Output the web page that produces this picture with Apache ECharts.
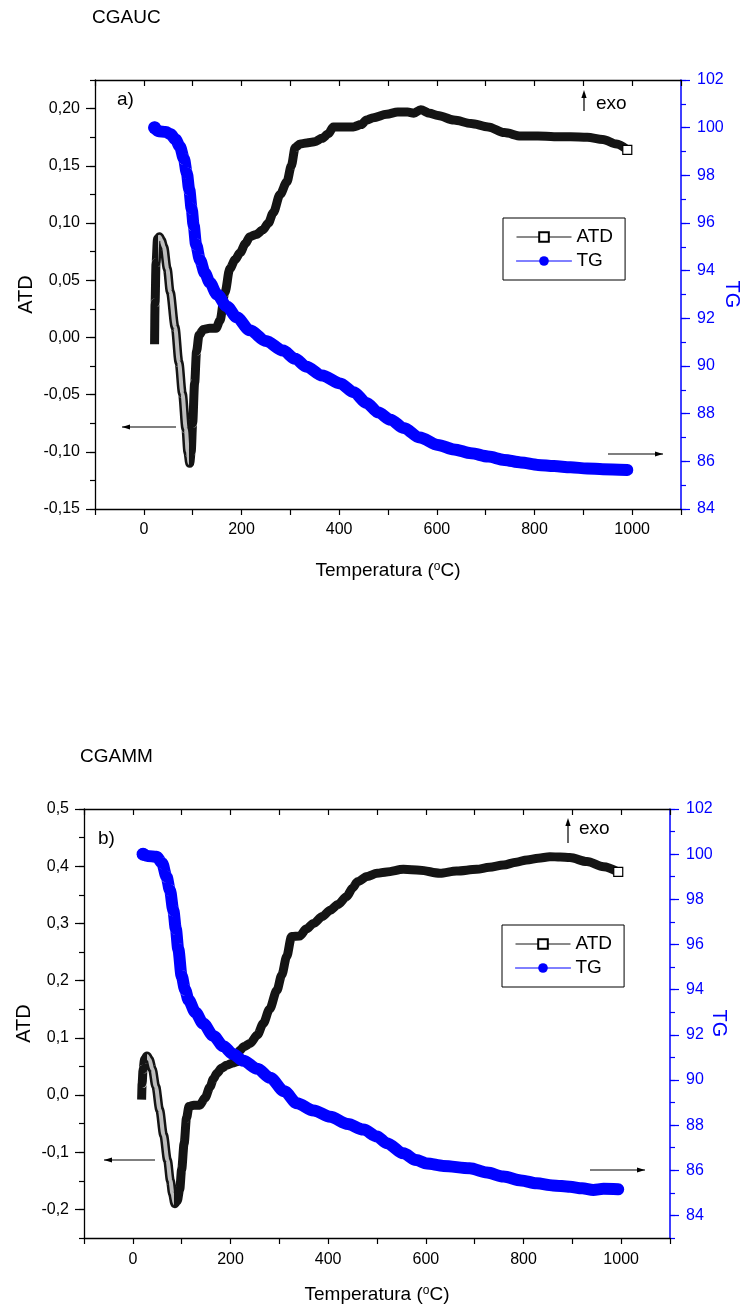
<!DOCTYPE html>
<html><head><meta charset="utf-8">
<script src="https://cdn.jsdelivr.net/npm/echarts@6/dist/echarts.min.js"></script>
<style>html,body{margin:0;padding:0;background:#fff}#c{width:744px;height:1311px}</style>
</head><body><div id="c"></div>
<script>
// ---- data ----
const titleA = 'CGAUC';
const titleB = 'CGAMM';
const xTicks = [0, 200, 400, 600, 800, 1000];
const atdTicksA = [-0.15, -0.10, -0.05, 0, 0.05, 0.10, 0.15, 0.20];
const atdTicksB = [-0.2, -0.1, 0, 0.1, 0.2, 0.3, 0.4, 0.5];
const tgTicks = [84, 86, 88, 90, 92, 94, 96, 98, 100, 102];

// (a) CGAUC : [temperature °C, ATD]
const atdA = [[22,-0.006],[23,0.03],[25,0.065],[28,0.086],[32,0.088],[36,0.085],[41,0.079],[48,0.06],[54,0.04],[64,0.009],[72,-0.022],[79,-0.049],[86,-0.08],[90,-0.1],[94,-0.11],[97,-0.1],[100,-0.075],[104,-0.04],[108,-0.012],[113,0.002],[122,0.007],[135,0.008],[148,0.008],[156,0.015],[166,0.039],[176,0.06],[187,0.068],[197,0.074],[208,0.082],[217,0.088],[230,0.09],[244,0.094],[255,0.1],[265,0.109],[279,0.125],[293,0.136],[302,0.15],[310,0.166],[320,0.169],[333,0.17],[350,0.171],[365,0.174],[378,0.178],[388,0.184],[405,0.184],[429,0.184],[445,0.186],[456,0.19],[470,0.192],[497,0.195],[520,0.197],[540,0.197],[553,0.196],[567,0.199],[585,0.196],[602,0.194],[635,0.19],[670,0.187],[705,0.184],[738,0.179],[772,0.176],[807,0.176],[840,0.1755],[874,0.1755],[908,0.175],[940,0.173],[968,0.169],[990,0.164]];
// (a) CGAUC : [temperature °C, TG %]
const tgA = [[22,100.0],[30,99.85],[45,99.82],[55,99.72],[65,99.5],[74,99.2],[82,98.7],[88,98.1],[93,97.4],[98,96.6],[102,95.9],[107,95.1],[115,94.45],[125,93.9],[135,93.5],[150,93.0],[170,92.5],[190,92.05],[217,91.5],[250,91.05],[285,90.65],[310,90.3],[333,89.97],[365,89.6],[402,89.27],[430,88.9],[456,88.45],[480,88.05],[505,87.75],[532,87.4],[565,87.0],[602,86.69],[635,86.5],[670,86.34],[705,86.2],[738,86.06],[772,85.95],[807,85.85],[840,85.8],[874,85.75],[908,85.7],[940,85.67],[990,85.64]];
// (b) CGAMM : [temperature °C, ATD]
const atdB = [[18,-0.008],[19,0.02],[21,0.045],[24,0.062],[29,0.068],[34,0.062],[40,0.045],[47,0.015],[55,-0.026],[63,-0.07],[71,-0.114],[77,-0.15],[81,-0.172],[86,-0.19],[91,-0.185],[96,-0.165],[100,-0.13],[105,-0.085],[110,-0.04],[115,-0.02],[125,-0.018],[137,-0.018],[148,-0.005],[158,0.014],[165,0.028],[172,0.038],[182,0.047],[192,0.052],[205,0.056],[213,0.058],[219,0.078],[228,0.085],[240,0.09],[255,0.105],[267,0.125],[280,0.15],[295,0.183],[305,0.21],[315,0.242],[325,0.277],[342,0.278],[355,0.29],[370,0.3],[388,0.312],[404,0.323],[420,0.333],[438,0.347],[450,0.362],[460,0.373],[480,0.382],[500,0.3875],[520,0.39],[554,0.3945],[588,0.393],[629,0.3876],[663,0.3916],[704,0.3945],[730,0.398],[759,0.402],[785,0.407],[807,0.411],[830,0.414],[854,0.4166],[875,0.416],[895,0.415],[930,0.408],[964,0.399],[994,0.39]];
// (b) CGAMM : [temperature °C, TG %]
const tgB = [[21,100.0],[30,99.92],[49,99.88],[60,99.6],[69,99.0],[76,98.4],[83,97.5],[88,96.7],[93,95.8],[100,94.6],[107,94.0],[114,93.55],[128,93.0],[144,92.5],[165,91.95],[185,91.5],[205,91.15],[226,90.85],[255,90.5],[281,90.1],[310,89.5],[336,88.97],[370,88.65],[404,88.37],[440,88.05],[472,87.8],[500,87.5],[520,87.2],[554,86.75],[580,86.45],[602,86.3],[636,86.19],[690,86.09],[725,85.9],[759,85.72],[795,85.55],[827,85.42],[860,85.33],[895,85.27],[920,85.2],[943,85.13],[964,85.18],[994,85.16]];

// ---- chart ----
const FF = '"Liberation Sans", Arial, sans-serif';
const BLUE = '#0000ff';
const chart = echarts.init(document.getElementById('c'), null, {renderer: 'canvas'});

function fmtComma(d) {
  return v => { if (Math.abs(v) < 1e-9) v = 0; return v.toFixed(d).replace('.', ','); };
}
const xName = {
  name: 'Temperatura ({sup|o}C)', nameLocation: 'middle', nameMoveOverlap: false,
  nameTextStyle: {fontSize: 19, color: '#000', fontFamily: FF,
    rich: {sup: {fontSize: 12, color: '#000', fontFamily: FF, verticalAlign: 'top', lineHeight: 12}}}
};
function xAxes(gi, nameGap, labelMargin) {
  return [
    Object.assign({type: 'value', gridIndex: gi, position: 'bottom', min: -100, max: 1100, interval: 100,
      nameGap: nameGap,
      axisLine: {show: true, onZero: false, lineStyle: {color: '#000', width: 1.3}},
      axisTick: {show: true, inside: false, length: 6, lineStyle: {color: '#000', width: 1.2}},
      axisLabel: {customValues: xTicks, formatter: v => (xTicks.indexOf(v) >= 0 ? String(v) : ''),
        fontSize: 16, color: '#000', fontFamily: FF, margin: labelMargin},
      splitLine: {show: false}}, xName),
    {type: 'value', gridIndex: gi, position: 'top', min: -100, max: 1100, interval: 100,
      axisLine: {show: true, onZero: false, lineStyle: {color: '#000', width: 1.3}},
      axisTick: {show: true, inside: true, length: 6, lineStyle: {color: '#000', width: 1.2}},
      axisLabel: {show: false}, splitLine: {show: false}}
  ];
}
function yAxes(gi, amin, amax, astep, aTicks, dec, tmin, tstep, atdGap, tgGap) {
  return [
    {type: 'value', gridIndex: gi, position: 'left', min: amin, max: amax, interval: astep,
      name: 'ATD', nameLocation: 'middle', nameGap: atdGap, nameRotate: 90, nameMoveOverlap: false,
      nameTextStyle: {fontSize: 20, color: '#000', fontFamily: FF},
      axisLine: {show: true, onZero: false, lineStyle: {color: '#000', width: 1.3}},
      axisTick: {show: true, length: 5, lineStyle: {color: '#000', width: 1.2}},
      axisLabel: {customValues: aTicks, formatter: fmtComma(dec), fontSize: 16, color: '#000', fontFamily: FF, margin: 15},
      splitLine: {show: false}},
    {type: 'value', gridIndex: gi, position: 'right', min: tmin, max: 102, interval: tstep,
      name: 'TG', nameLocation: 'middle', nameGap: tgGap, nameRotate: -90, nameMoveOverlap: false,
      nameTextStyle: {fontSize: 20, color: BLUE, fontFamily: FF},
      axisLine: {show: true, onZero: false, lineStyle: {color: BLUE, width: 1.5}},
      axisTick: {show: true, length: 5, lineStyle: {color: BLUE, width: 1.2}},
      axisLabel: {customValues: tgTicks, formatter: v => String(v), fontSize: 16, color: BLUE, fontFamily: FF, margin: 16},
      splitLine: {show: false}},
    // major tick overlays
    {type: 'value', gridIndex: gi, position: 'left', min: amin, max: amax, interval: astep,
      axisLine: {show: false, onZero: false}, axisLabel: {show: false}, splitLine: {show: false},
      axisTick: {show: true, customValues: aTicks, length: 9, lineStyle: {color: '#000', width: 1.2}}},
    {type: 'value', gridIndex: gi, position: 'right', min: tmin, max: 102, interval: tstep,
      axisLine: {show: false, onZero: false}, axisLabel: {show: false}, splitLine: {show: false},
      axisTick: {show: true, customValues: tgTicks, length: 9, lineStyle: {color: BLUE, width: 1.2}}}
  ];
}

function atdSeries(data, xi, yi) {
  return [
    {name: 'ATD', type: 'line', xAxisIndex: xi, yAxisIndex: yi, data: data,
      smooth: 0.3, smoothMonotone: 'x', symbol: 'rect', showAllSymbol: true,
      symbolSize: (v, p) => (p.dataIndex === data.length - 1 ? 9 : 0),
      lineStyle: {color: '#141414', width: 9, join: 'round'},
      itemStyle: {color: '#fff', borderColor: '#000', borderWidth: 1.2},
      z: 3, silent: true},
    {name: 'ATD_inner', type: 'line', xAxisIndex: xi, yAxisIndex: yi, data: data,
      smooth: 0.3, smoothMonotone: 'x', symbol: 'none',
      lineStyle: {width: 4, join: 'round'}, z: 4, silent: true}
  ];
}
function tgSeries(data, xi, yi) {
  return {name: 'TG', type: 'line', xAxisIndex: xi, yAxisIndex: yi, data: data,
    smooth: 0.3, smoothMonotone: 'x', symbol: 'circle', showAllSymbol: true,
    symbolSize: (v, p) => (p.dataIndex === 0 ? 13 : 0),
    lineStyle: {color: BLUE, width: 12, cap: 'round', join: 'round'},
    itemStyle: {color: BLUE}, z: 5, silent: true};
}

function legendAt(left, top) {
  return {left: left, top: top, orient: 'vertical', selectedMode: false,
    data: [{name: 'ATD'}, {name: 'TG'}],
    itemWidth: 55, itemHeight: 12, itemGap: 2, padding: [8, 12, 8, 13],
    borderColor: '#000', borderWidth: 1, backgroundColor: '#fff',
    lineStyle: {width: 1},
    textStyle: {fontSize: 19, color: '#000', fontFamily: FF, lineHeight: 22}};
}

function txt(x, y, s, size, align) {
  return {type: 'text', x: x, y: y, silent: true,
    style: {text: s, fill: '#000', fontSize: size, fontFamily: FF, align: align || 'left', verticalAlign: 'middle'}};
}
function hArrow(x1, x2, y, left) {
  const tip = left ? x1 : x2, b = left ? tip + 8 : tip - 8;
  return [
    {type: 'line', silent: true, shape: {x1: x1, y1: y, x2: x2, y2: y}, style: {stroke: '#000', lineWidth: 1.2}},
    {type: 'polygon', silent: true, shape: {points: [[tip, y], [b, y - 2.6], [b, y + 2.6]]}, style: {fill: '#000'}}
  ];
}
function vArrow(x, yTip, yTail) {
  return [
    {type: 'line', silent: true, shape: {x1: x, y1: yTip + 4, x2: x, y2: yTail}, style: {stroke: '#000', lineWidth: 1.2}},
    {type: 'polygon', silent: true, shape: {points: [[x, yTip], [x - 2.6, yTip + 8], [x + 2.6, yTip + 8]]}, style: {fill: '#000'}}
  ];
}

const option = {
  animation: false,
  backgroundColor: '#fff',
  grid: [
    {left: 95, top: 80, width: 586, height: 429, containLabel: false, outerBoundsMode: 'none'},
    {left: 84, top: 809, width: 586, height: 429, containLabel: false, outerBoundsMode: 'none'}
  ],
  xAxis: [].concat(xAxes(0, 52, 13), xAxes(1, 47, 14)),
  yAxis: [].concat(
    yAxes(0, -0.15, 0.225, 0.025, atdTicksA, 2, 84, 1, 59, 41),
    yAxes(1, -0.25, 0.5, 0.05, atdTicksB, 1, 83, 1, 50, 39)
  ),
  visualMap: [
    {type: 'piecewise', show: false, seriesIndex: 1, dimension: 0,
      pieces: [{gte: 30, lte: 92, color: '#bdbdbd'}], outOfRange: {color: 'rgba(0,0,0,0)'}},
    {type: 'piecewise', show: false, seriesIndex: 4, dimension: 0,
      pieces: [{gte: 28, lte: 84, color: '#bdbdbd'}], outOfRange: {color: 'rgba(0,0,0,0)'}}
  ],
  legend: [legendAt(503, 218), legendAt(502, 925)],
  series: [].concat(
    atdSeries(atdA, 0, 0), [tgSeries(tgA, 0, 1)],
    atdSeries(atdB, 2, 4), [tgSeries(tgB, 2, 5)]
  ),
  graphic: [].concat(
    [txt(92, 18, titleA, 19), txt(80, 757, titleB, 19),
     txt(117, 100, 'a)', 19), txt(98, 839, 'b)', 19),
     txt(596, 104, 'exo', 19), txt(579, 829, 'exo', 19)],
    hArrow(122, 176, 427, true), hArrow(608, 663, 454, false),
    hArrow(104, 155, 1160, true), hArrow(590, 645, 1170, false),
    vArrow(584, 90, 111), vArrow(568, 818, 843)
  )
};
chart.setOption(option);
</script>
</body></html>
